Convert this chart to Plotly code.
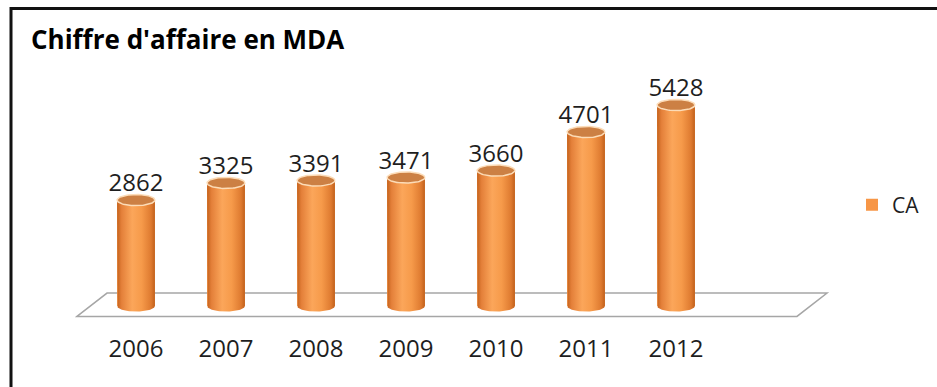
import numpy as np
import plotly.graph_objects as go

# Chiffre d'affaire (MDA) per year
years = ["2006", "2007", "2008", "2009", "2010", "2011", "2012"]
ca = [2862, 3325, 3391, 3471, 3660, 4701, 5428]
series_name = "CA"
title_text = "Chiffre d'affaire en MDA"

# canvas and plot-area geometry (pixels)
W, H = 937, 387
L, R, T, B = 60, 97, 60, 55
PW, PH = W - L - R, H - T - B

# axis ranges
X_RANGE = [-0.8444, 7.8222]
Y_RANGE = [-702, 6645]

# cylinder shape parameters (axis units)
HALF_W = 0.21
CAP_RY = 150

BODY_SCALE = [
    [0.0, "#c4621c"], [0.12, "#e4803a"], [0.4, "#fba65a"],
    [0.65, "#f69a4a"], [0.9, "#de7a30"], [1.0, "#c0601c"],
]
CAP_FILL = "#cc8044"
CAP_RIM = "#fcdcb8"
TEXT = "#1e1e1e"
FONT = "Open Sans"


def px_x(p):
    return (p - L) / PW


def px_y(p):
    return (H - B - p) / PH


fig = go.Figure()

# main series (also provides the legend entry)
fig.add_trace(go.Bar(
    x=list(range(len(ca))), y=ca, width=2 * HALF_W, name=series_name,
    marker=dict(color="#f79646", line=dict(width=0)), hoverinfo="skip",
))

t_bot = np.linspace(np.pi, 2 * np.pi, 40)
t_cap = np.linspace(0, 2 * np.pi, 80)
for i, v in enumerate(ca):
    # cylinder body with rounded bottom
    bx = [i - HALF_W, *(i + HALF_W * np.cos(t_bot)), i + HALF_W, i - HALF_W]
    by = [v, *(CAP_RY * np.sin(t_bot)), v, v]
    fig.add_trace(go.Scatter(
        x=bx, y=by, mode="lines", fill="toself", line=dict(width=0),
        fillgradient=dict(type="horizontal", colorscale=BODY_SCALE),
        showlegend=False, hoverinfo="skip",
    ))
    # top cap ellipse
    fig.add_trace(go.Scatter(
        x=i + HALF_W * np.cos(t_cap), y=v + CAP_RY * np.sin(t_cap),
        mode="lines", fill="toself", fillcolor=CAP_FILL,
        line=dict(color=CAP_RIM, width=1.5),
        showlegend=False, hoverinfo="skip",
    ))

# value labels above the cylinders
fig.add_trace(go.Scatter(
    x=list(range(len(ca))), y=[v + CAP_RY * 0.5 for v in ca], mode="text",
    text=[str(v) for v in ca], textposition="top center",
    textfont=dict(family=FONT, size=24, color=TEXT),
    showlegend=False, hoverinfo="skip",
))

# floor of the 3D plot
fl_front, fl_back = -280, 350
floor = dict(
    type="path", xref="x", yref="y", layer="below",
    path=f"M -0.656 {fl_front} L -0.322 {fl_back} L 7.678 {fl_back} L 7.344 {fl_front} Z",
    line=dict(color="#a6a6a6", width=1.5), fillcolor="white",
)

# frame lines (top and left)
frame = [
    dict(type="line", xref="paper", yref="paper", x0=px_x(10), x1=px_x(W + 5),
         y0=px_y(8.5), y1=px_y(8.5), line=dict(color="#111111", width=3)),
    dict(type="line", xref="paper", yref="paper", x0=px_x(11), x1=px_x(11),
         y0=px_y(7), y1=px_y(H + 5), line=dict(color="#111111", width=3)),
]

fig.update_layout(
    width=W, height=H,
    margin=dict(l=L, r=R, t=T, b=B),
    paper_bgcolor="white", plot_bgcolor="rgba(0,0,0,0)",
    title=dict(text=f"<b>{title_text}</b>", x=31 / W, xref="container", xanchor="left",
               y=1 - 40 / H, yref="container", yanchor="middle",
               font=dict(family=FONT, size=26, color="#000000")),
    xaxis=dict(range=X_RANGE, tickvals=list(range(len(years))), ticktext=years,
               showgrid=False, zeroline=False, showline=False, ticks="",
               tickfont=dict(family=FONT, size=24, color=TEXT), fixedrange=True),
    yaxis=dict(range=Y_RANGE, showgrid=False, zeroline=False, showline=False,
               showticklabels=False, ticks="", fixedrange=True),
    legend=dict(x=px_x(852), y=px_y(205), xanchor="left", yanchor="middle",
                font=dict(family=FONT, size=21, color=TEXT), itemwidth=30,
                bgcolor="rgba(0,0,0,0)"),
    shapes=[floor] + frame,
    showlegend=True,
)

fig.write_html("out.html")
